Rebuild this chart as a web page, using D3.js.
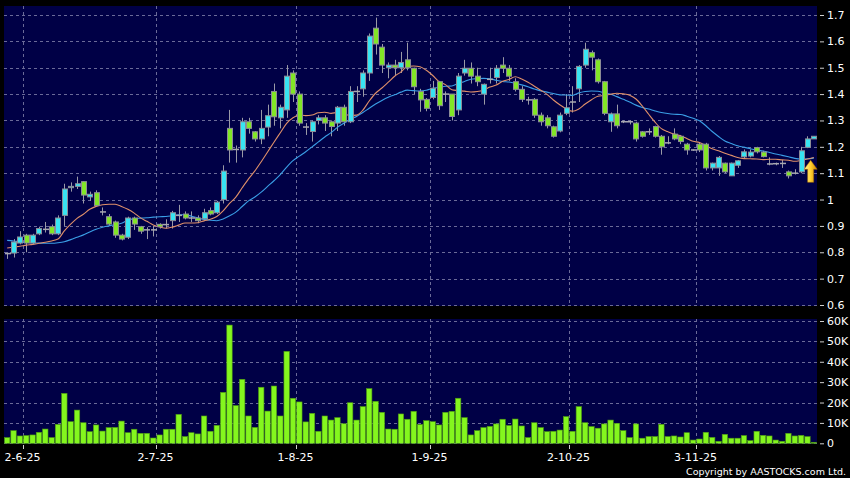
<!DOCTYPE html>
<html><head><meta charset="utf-8">
<script src="https://cdn.jsdelivr.net/npm/d3@7"></script>
<style>html,body{margin:0;padding:0;background:#000;}svg{display:block;}</style>
</head><body>
<svg id="chart" width="850" height="478"></svg>
<script>
// ---- data ----
const open = [.795,.797,.835,.865,.835,.87,.885,.897,.87,.94,1.045,1.05,1.068,1.01,1.026,.953,.935,.915,.865,.857,
.93,.897,.887,.885,.906,.905,.92,.94,.945,.93,.93,.927,.958,.95,1.0,1.27,1.19,1.188,1.295,1.257,
1.23,1.275,1.41,1.31,1.34,1.48,1.40,1.275,1.258,1.30,1.31,1.295,1.29,1.35,1.295,1.41,1.42,1.48,1.65,1.578,
1.50,1.51,1.50,1.53,1.498,1.41,1.38,1.387,1.447,1.40,1.40,1.34,1.48,1.498,1.468,1.40,1.456,1.463,1.51,1.498,
1.447,1.418,1.378,1.38,1.32,1.31,1.276,1.26,1.327,1.37,1.42,1.51,1.557,1.53,1.447,1.295,1.325,1.295,1.295,1.29,
1.257,1.257,1.277,1.24,1.215,1.248,1.24,1.21,1.188,1.21,1.21,1.12,1.12,1.138,1.09,1.13,1.162,1.165,1.197,1.18,
1.135,1.135,1.137,1.105,1.10,1.105,1.198,1.23];
const high = [.80,.85,.88,.87,.87,.897,.915,.905,.94,1.06,1.065,1.087,1.07,1.03,1.035,.97,.945,.92,.87,.935,
.935,.90,.895,.90,.91,.925,.957,.98,.955,.955,.94,.965,.97,.995,1.13,1.34,1.205,1.31,1.31,1.26,
1.34,1.36,1.44,1.36,1.51,1.49,1.41,1.29,1.30,1.32,1.32,1.30,1.355,1.36,1.43,1.43,1.49,1.63,1.69,1.59,
1.52,1.53,1.56,1.595,1.50,1.42,1.385,1.45,1.45,1.41,1.40,1.48,1.53,1.52,1.50,1.44,1.50,1.51,1.54,1.51,
1.46,1.43,1.39,1.385,1.33,1.32,1.28,1.33,1.40,1.43,1.51,1.595,1.565,1.535,1.45,1.33,1.36,1.30,1.30,1.295,
1.26,1.27,1.28,1.245,1.24,1.27,1.245,1.215,1.19,1.215,1.215,1.14,1.165,1.14,1.14,1.15,1.19,1.19,1.20,1.185,
1.16,1.14,1.15,1.11,1.115,1.20,1.24,1.24];
const low = [.775,.78,.83,.80,.83,.865,.875,.865,.865,.90,1.03,1.04,.985,.995,.975,.94,.90,.855,.845,.85,
.885,.87,.85,.86,.89,.89,.89,.915,.925,.915,.91,.92,.94,.945,.985,1.14,1.14,1.16,1.25,1.22,
1.21,1.24,1.28,1.27,1.31,1.37,1.28,1.245,1.22,1.285,1.26,1.24,1.26,1.28,1.29,1.37,1.39,1.45,1.55,1.48,
1.46,1.47,1.48,1.49,1.40,1.333,1.335,1.38,1.34,1.37,1.30,1.32,1.47,1.44,1.43,1.36,1.44,1.44,1.48,1.45,
1.41,1.37,1.36,1.31,1.28,1.27,1.235,1.255,1.32,1.33,1.37,1.50,1.49,1.44,1.32,1.257,1.27,1.29,1.285,1.22,
1.235,1.245,1.235,1.17,1.21,1.225,1.21,1.17,1.185,1.18,1.11,1.11,1.09,1.10,1.09,1.12,1.155,1.16,1.175,1.16,
1.13,1.13,1.12,1.08,1.095,1.10,1.195,1.23];
const close = [.795,.839,.858,.835,.865,.89,.887,.87,.93,1.04,1.05,1.06,1.017,1.02,.977,.953,.907,.865,.85,.93,
.907,.88,.885,.885,.897,.905,.95,.94,.93,.93,.92,.95,.945,.99,1.108,1.188,1.19,1.295,1.27,1.23,
1.27,1.318,1.314,1.35,1.468,1.40,1.29,1.275,1.295,1.31,1.29,1.277,1.35,1.295,1.41,1.41,1.48,1.62,1.59,1.51,
1.51,1.50,1.52,1.50,1.428,1.378,1.346,1.422,1.356,1.40,1.315,1.468,1.498,1.468,1.447,1.437,1.456,1.498,1.498,1.468,
1.418,1.38,1.378,1.32,1.295,1.28,1.24,1.32,1.348,1.37,1.505,1.57,1.54,1.447,1.327,1.325,1.28,1.295,1.295,1.23,
1.24,1.257,1.24,1.20,1.215,1.23,1.22,1.188,1.188,1.188,1.12,1.138,1.16,1.105,1.138,1.147,1.181,1.18,1.181,1.163,
1.135,1.136,1.137,1.09,1.10,1.185,1.23,1.24];
// volume in thousands of shares
const volume = [2.8,6.2,3.6,3.8,4.1,5.4,7.0,2.8,9.3,24.5,10.6,16.3,10.1,5.7,9.0,6.0,7.7,7.8,10.9,5.2,
6.9,4.9,4.9,2.6,4.1,6.9,6.9,14.2,3.3,5.2,4.6,13.4,5.9,8.8,25.0,58.0,18.5,31.4,13.4,7.8,
27.5,15.8,28.1,13.4,45.1,22.1,20.3,10.5,14.7,5.9,13.4,11.4,12.6,9.6,19.9,11.4,18.0,26.8,20.6,15.2,
7.0,6.9,14.4,11.8,15.7,9.2,11.1,10.6,9.0,15.2,15.7,22.1,12.6,4.1,6.2,7.7,8.3,9.5,11.8,8.7,
11.9,8.5,2.8,10.1,7.7,5.7,5.9,6.5,13.1,5.9,18.0,10.1,8.2,7.4,9.5,11.4,9.8,6.2,2.8,9.5,
2.5,3.3,3.3,9.3,3.3,3.6,3.1,5.2,1.6,2.1,5.4,2.9,1.0,4.4,2.5,2.5,3.8,1.3,5.9,3.9,
3.6,1.6,1.0,4.9,3.6,3.9,3.3,0.5];
// moving-average values before a full window exists
const ma10Head = [.816,.82,.823,.827,.83,.834,.838,.843,.85];
const ma20Head = [.845,.843,.84,.838,.836,.835,.834,.834,.836,.84,.848,.857,.866,.877,.887,.895,.90,.905,.91];
const tickIndex = [2,23,45,66,88,108];
const tickLabels = ["2-6-25","2-7-25","1-8-25","1-9-25","2-10-25","3-11-25"];
const priceTicks = [0.6,0.7,0.8,0.9,1.0,1.1,1.2,1.3,1.4,1.5,1.6,1.7];
const volumeTicks = [0,10,20,30,40,50,60];

// ---- drawing ----
const svg = d3.select("#chart");
const FONT = "DejaVu Sans, Verdana, sans-serif";
const N = close.length;
const L = 4, R = 817;
const pTop = 6, pBot = 306, vTop = 319, vBot = 444;

const x = d3.scaleBand().domain(d3.range(N)).range([L, R]).padding(0);
const cx = i => x(i) + x.bandwidth() / 2;
const yP = d3.scaleLinear().domain([0.6, 1.7]).range([305, 15]);
const yV = d3.scaleLinear().domain([0, 60]).range([443.3, 321]);

svg.append("rect").attr("width", 850).attr("height", 478).attr("fill", "#000");
svg.append("rect").attr("x", L).attr("y", pTop).attr("width", R - L).attr("height", pBot - pTop).attr("fill", "#000046");
svg.append("rect").attr("x", L).attr("y", vTop).attr("width", R - L).attr("height", vBot - vTop).attr("fill", "#000046");

const gridColor = "#6a6a98";
const dash = "3,3";
const grid = svg.append("g").attr("stroke", gridColor).attr("stroke-width", 1).attr("stroke-dasharray", dash);
priceTicks.forEach(t => grid.append("line").attr("x1", L).attr("x2", R)
  .attr("y1", Math.round(yP(t)) + 0.5).attr("y2", Math.round(yP(t)) + 0.5));
volumeTicks.forEach(t => grid.append("line").attr("x1", L).attr("x2", R)
  .attr("y1", Math.round(yV(t)) + 0.5).attr("y2", Math.round(yV(t)) + 0.5));
const gx = i => Math.round(x(i) + x.bandwidth()) + 0.5;
tickIndex.forEach(i => {
  grid.append("line").attr("x1", gx(i)).attr("x2", gx(i)).attr("y1", pTop).attr("y2", pBot);
  grid.append("line").attr("x1", gx(i)).attr("x2", gx(i)).attr("y1", vTop).attr("y2", vBot);
});

// moving averages
function movingAvg(period, head) {
  return close.map((c, i) => i < period - 1 ? head[i] : d3.mean(close.slice(i - period + 1, i + 1)));
}
const ma10 = movingAvg(10, ma10Head);
const ma20 = movingAvg(20, ma20Head);
const line = d3.line().x((d, i) => cx(i)).y(d => yP(d)).curve(d3.curveMonotoneX);

// candle wicks
const cg = svg.append("g");
const bw = 5;
d3.range(N).forEach(i => {
  cg.append("line").attr("x1", Math.round(cx(i)) + 0.5).attr("x2", Math.round(cx(i)) + 0.5)
    .attr("y1", yP(high[i])).attr("y2", yP(low[i])).attr("stroke", "#9a9aa6").attr("stroke-width", 1);
});
svg.append("path").datum(ma20).attr("d", line).attr("fill", "none").attr("stroke", "#3a9ee6").attr("stroke-width", 1.1);
svg.append("path").datum(ma10).attr("d", line).attr("fill", "none").attr("stroke", "#e0906a").attr("stroke-width", 1.1);
// candle bodies
const bg = svg.append("g");
d3.range(N).forEach(i => {
  const o = open[i], c = close[i];
  const x0 = Math.round(cx(i) - bw / 2) + 0.5;
  if (Math.abs(o - c) < 0.003) {
    bg.append("line").attr("x1", x0 - 0.5).attr("x2", x0 + bw + 0.5)
      .attr("y1", yP(c)).attr("y2", yP(c)).attr("stroke", "#a8a8b0").attr("stroke-width", 1.5);
  } else {
    const top = yP(Math.max(o, c)), bot = yP(Math.min(o, c));
    bg.append("rect").attr("x", x0).attr("y", top).attr("width", bw).attr("height", Math.max(1, bot - top))
      .attr("fill", c > o ? "#38e4f2" : "#82e626").attr("stroke", "#8c8c96").attr("stroke-width", 1);
  }
});

// volume bars
svg.append("g").selectAll("rect").data(volume).join("rect")
  .attr("x", (d, i) => cx(i) - 2.7).attr("width", 5.4)
  .attr("y", d => yV(d)).attr("height", d => yV(0) - yV(d))
  .attr("fill", "#84f61e").attr("stroke", "#4d9a12").attr("stroke-width", 0.6);

// arrow marker at the last bar
const ax = x(N - 1), aTop = yP(close[N - 1]) + 24, aBot = aTop + 22;
const defs = svg.append("defs");
const grad = defs.append("linearGradient").attr("id", "ag").attr("x1", "0").attr("x2", "1").attr("y1", "0").attr("y2", "0");
grad.append("stop").attr("offset", "0").attr("stop-color", "#fff4a0");
grad.append("stop").attr("offset", "0.5").attr("stop-color", "#ffd030");
grad.append("stop").attr("offset", "1").attr("stop-color", "#c88400");
svg.append("path").attr("fill", "url(#ag)").attr("stroke", "#b07000").attr("stroke-width", 0.5)
  .attr("d", `M${ax},${aTop} L${ax + 6.5},${aTop + 9} L${ax + 3},${aTop + 9} L${ax + 3},${aBot} L${ax - 3},${aBot} L${ax - 3},${aTop + 9} L${ax - 6.5},${aTop + 9} Z`);

// right axes
const axP = d3.axisRight(yP).tickValues(priceTicks).tickSize(4).tickPadding(3)
  .tickFormat(d => String(+d.toFixed(1)));
const axV = d3.axisRight(yV).tickValues(volumeTicks).tickSize(4).tickPadding(3)
  .tickFormat(d => d === 0 ? "0" : d + "K");
[axP, axV].forEach(a => {
  const g = svg.append("g").attr("transform", "translate(820,0)").call(a);
  g.select(".domain").remove();
  g.selectAll("line").attr("stroke", "#cfcfcf");
  g.selectAll("text").attr("fill", "#fff").attr("font-family", FONT).attr("font-size", 11);
});

// date axis
const dg = svg.append("g");
tickIndex.forEach((i, k) => {
  const lx = Math.max(19, gx(i) - 1);
  dg.append("line").attr("x1", Math.round(lx) + 0.5).attr("x2", Math.round(lx) + 0.5)
    .attr("y1", vBot + 1).attr("y2", vBot + 5).attr("stroke", "#cfcfcf");
  dg.append("text").attr("x", lx).attr("y", 461).attr("text-anchor", "middle")
    .attr("fill", "#fff").attr("font-family", FONT).attr("font-size", 11).text(tickLabels[k]);
});

svg.append("text").attr("x", 846).attr("y", 475).attr("text-anchor", "end")
  .attr("fill", "#fff").attr("font-family", FONT).attr("font-size", 9.5)
  .text("Copyright by AASTOCKS.com Ltd.");
</script>
</body></html>
